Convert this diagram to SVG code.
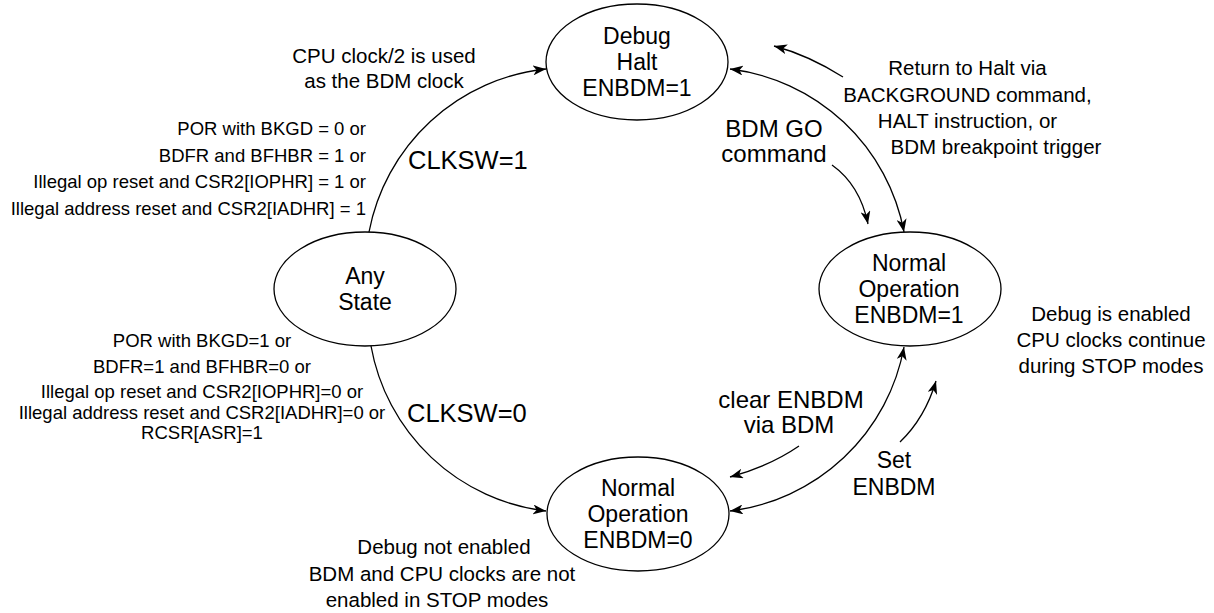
<svg xmlns="http://www.w3.org/2000/svg" width="1214" height="613" viewBox="0 0 1214 613">
<style>
.node{fill:#fff;stroke:#000;stroke-width:1.3}
.conn{fill:none;stroke:#000;stroke-width:1.3}
text{font-family:"Liberation Sans",Arial,sans-serif;fill:#000}
.nt{font-size:23px;text-anchor:middle}
.big{font-size:25.5px}
.big2{font-size:24px}
.sm{font-size:18.5px}
.md{font-size:20.5px}
.mid{text-anchor:middle}
.end{text-anchor:end}
</style>
<defs>
<marker id="ah" viewBox="0 0 13 10" refX="13" refY="5" markerWidth="13" markerHeight="10" markerUnits="userSpaceOnUse" orient="auto-start-reverse">
<path d="M0,0 L13,5 L0,10 L3.5,5 Z" fill="#000"/>
</marker>
</defs>
<rect width="1214" height="613" fill="#fff"/>
<g id="connectors">
<path class="conn" d="M369,232 A202,202 0 0 1 546,69" marker-end="url(#ah)"/>
<path class="conn" d="M371,346 A202,202 0 0 0 546,511" marker-end="url(#ah)"/>
<path class="conn" d="M730,69 A202,202 0 0 1 904,232" marker-start="url(#ah)" marker-end="url(#ah)"/>
<path class="conn" d="M904,347 A202,202 0 0 1 730,511" marker-start="url(#ah)" marker-end="url(#ah)"/>
<path class="conn" d="M843,77 Q808,55 774,46" marker-end="url(#ah)"/>
<path class="conn" d="M832,165 Q860,185 868,224" marker-end="url(#ah)"/>
<path class="conn" d="M799,446 Q770,466 730,477" marker-end="url(#ah)"/>
<path class="conn" d="M900,442 Q925,418 936,381" marker-end="url(#ah)"/>
</g>
<g id="debug-halt">
<ellipse class="node" cx="637" cy="62" rx="91" ry="58"/>
<text class="nt" x="637" y="44">Debug</text>
<text class="nt" x="637" y="70">Halt</text>
<text class="nt" x="637" y="96">ENBDM=1</text>
</g>
<g id="any-state">
<ellipse class="node" cx="365" cy="289" rx="91" ry="57"/>
<text class="nt" x="365" y="284">Any</text>
<text class="nt" x="365" y="310">State</text>
</g>
<g id="normal-op-1">
<ellipse class="node" cx="910" cy="289" rx="91" ry="57"/>
<text class="nt" x="909" y="271">Normal</text>
<text class="nt" x="909" y="297">Operation</text>
<text class="nt" x="909" y="323">ENBDM=1</text>
</g>
<g id="normal-op-0">
<ellipse class="node" cx="638" cy="514" rx="91" ry="57"/>
<text class="nt" x="638" y="496">Normal</text>
<text class="nt" x="638" y="522">Operation</text>
<text class="nt" x="638" y="548">ENBDM=0</text>
</g>
<g id="labels">
<text class="md mid" x="384" y="63">CPU clock/2 is used</text>
<text class="md mid" x="384" y="88">as the BDM clock</text>
<text class="sm end" x="366" y="135">POR with BKGD = 0 or</text>
<text class="sm end" x="366" y="162">BDFR and BFHBR = 1 or</text>
<text class="sm end" x="366" y="188">Illegal op reset and CSR2[IOPHR] = 1 or</text>
<text class="sm end" x="366" y="215">Illegal address reset and CSR2[IADHR] = 1</text>
<text class="big" x="408" y="169">CLKSW=1</text>
<text class="big2 mid" x="774" y="137">BDM GO</text>
<text class="big2 mid" x="774" y="162">command</text>
<text class="md mid" x="967.5" y="75">Return to Halt via</text>
<text class="md mid" x="967.5" y="102">BACKGROUND command,</text>
<text class="md mid" x="967.5" y="128">HALT instruction, or</text>
<text class="md mid" x="996" y="154">BDM breakpoint trigger</text>
<text class="sm mid" x="202" y="347">POR with BKGD=1 or</text>
<text class="sm mid" x="202" y="373">BDFR=1 and BFHBR=0 or</text>
<text class="sm mid" x="202" y="398">Illegal op reset and CSR2[IOPHR]=0 or</text>
<text class="sm mid" x="202" y="419">Illegal address reset and CSR2[IADHR]=0 or</text>
<text class="sm mid" x="202" y="439">RCSR[ASR]=1</text>
<text class="big" x="407" y="422">CLKSW=0</text>
<text class="big2 mid" x="791" y="408">clear ENBDM</text>
<text class="big2 mid" x="789" y="433">via BDM</text>
<text class="nt" x="894" y="468">Set</text>
<text class="nt" x="894" y="495">ENBDM</text>
<text class="md mid" x="1111" y="321">Debug is enabled</text>
<text class="md mid" x="1111" y="347">CPU clocks continue</text>
<text class="md mid" x="1111" y="373">during STOP modes</text>
<text class="md mid" x="444" y="554">Debug not enabled</text>
<text class="md mid" x="442" y="581">BDM and CPU clocks are not</text>
<text class="md mid" x="437" y="607">enabled in STOP modes</text>
</g>
</svg>
